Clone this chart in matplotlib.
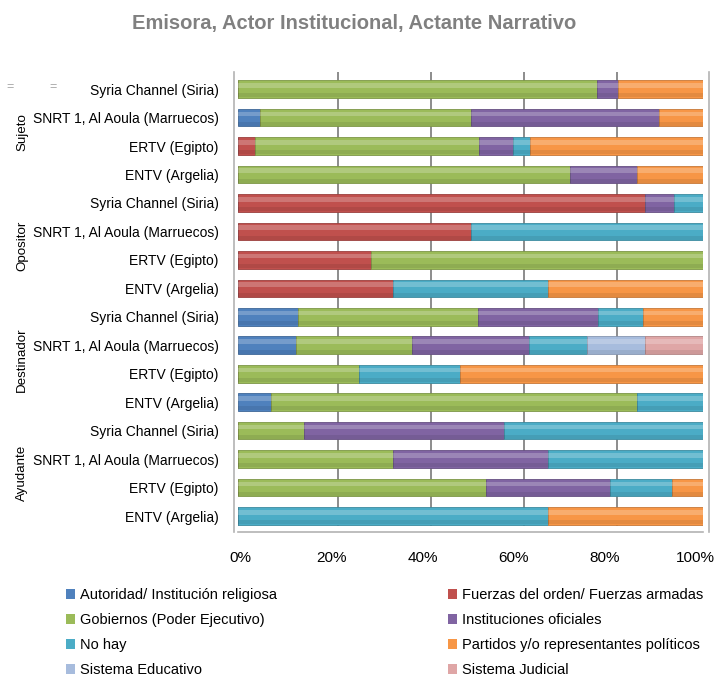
"""
Stacked 100% horizontal bar chart: institutional actor per station and narrative role.
"""

import matplotlib

matplotlib.use("Agg")
import matplotlib.pyplot as plt
import matplotlib.transforms as mtransforms
import numpy as np
from matplotlib.patches import Patch

plt.rcParams["font.family"] = ["Liberation Sans", "DejaVu Sans"]

# rows listed top to bottom
stations = [
    "Syria Channel (Siria)",
    "SNRT 1, Al Aoula (Marruecos)",
    "ERTV (Egipto)",
    "ENTV (Argelia)",
] * 4
roles = ["Sujeto", "Opositor", "Destinador", "Ayudante"]

series_names = [
    "Autoridad/ Institución religiosa",
    "Fuerzas del orden/ Fuerzas armadas",
    "Gobiernos (Poder Ejecutivo)",
    "Instituciones oficiales",
    "No hay",
    "Partidos y/o representantes políticos",
    "Sistema Educativo",
    "Sistema Judicial",
]
colors = ["#4F81BD", "#C0504D", "#9BBB59", "#8064A2", "#4BACC6", "#F79646", "#A7BCDD", "#DFA6A6"]

autoridad = [0, 4.8, 0, 0, 0, 0, 0, 0, 12.9, 12.5, 0, 7.1, 0, 0, 0, 0]
fuerzas = [0, 0, 3.7, 0, 87.5, 50, 28.6, 33.3, 0, 0, 0, 0, 0, 0, 0, 0]
gobiernos = [77.3, 45.2, 48.1, 71.4, 0, 0, 71.4, 0, 38.7, 25, 26.1, 78.6, 14.3, 33.3, 53.3, 0]
instituciones = [4.5, 40.5, 7.4, 14.3, 6.25, 0, 0, 0, 25.8, 25, 0, 0, 42.9, 33.3, 26.7, 0]
no_hay = [0, 0, 3.7, 0, 6.25, 50, 0, 33.3, 9.7, 12.5, 21.7, 14.3, 42.8, 33.4, 13.3, 66.7]
partidos = [18.2, 9.5, 37.1, 14.3, 0, 0, 0, 33.4, 12.9, 0, 52.2, 0, 0, 0, 6.7, 33.3]
educativo = [0, 0, 0, 0, 0, 0, 0, 0, 0, 12.5, 0, 0, 0, 0, 0, 0]
judicial = [0, 0, 0, 0, 0, 0, 0, 0, 0, 12.5, 0, 0, 0, 0, 0, 0]

series = [autoridad, fuerzas, gobiernos, instituciones, no_hay, partidos, educativo, judicial]
ticks = [0, 20, 40, 60, 80, 100]

# the percent labels sit on the front floor of the 3D box, a bit narrower than the bars
FLOOR_X0, FLOOR_SPAN = 0.6, 97.7


def to_floor(x):
    return (np.asarray(x, dtype=float) - FLOOR_X0) * 100 / FLOOR_SPAN


def from_floor(v):
    return np.asarray(v, dtype=float) * FLOOR_SPAN / 100 + FLOOR_X0


def main():
    fig = plt.figure(figsize=(7.17, 6.86), dpi=100)
    ax = fig.add_axes([238 / 717, 1 - 532 / 686, 465 / 717, 460 / 686])

    y = np.arange(len(stations))
    left = np.zeros(len(stations))
    bar_h = 0.62
    for name, vals, col in zip(series_names, series, colors):
        vals = np.asarray(vals, dtype=float)
        edge = tuple(c * 0.8 for c in matplotlib.colors.to_rgb(col))
        ax.barh(y, vals, left=left, height=bar_h, color=col, edgecolor=edge,
                linewidth=0.6, label=name, zorder=3)
        # cylinder-ish shading
        ax.barh(y - 0.13, vals, left=left, height=0.16, color="white",
                alpha=0.22, linewidth=0, zorder=4)
        ax.barh(y + 0.22, vals, left=left, height=0.14, color="black",
                alpha=0.08, linewidth=0, zorder=4)
        left += vals

    ax.set_xlim(0, 100)
    ax.set_ylim(15.56, -0.6)
    ax.set_xticks(ticks)
    ax.tick_params(axis="x", length=0, labelbottom=False)
    ax.set_yticks(y)
    ax.set_yticklabels(stations, fontsize=9.4)
    ax.tick_params(axis="y", length=0, pad=11)

    floor = ax.secondary_xaxis("bottom", functions=(to_floor, from_floor))
    floor.set_xticks(ticks)
    floor.set_xticklabels([f"{t}%" for t in ticks], fontsize=11)
    floor.tick_params(length=0, pad=14)
    floor.spines["bottom"].set_visible(False)

    # back-wall gridlines, shifted by the 3D depth
    shift = mtransforms.offset_copy(ax.transData, fig=fig, x=7, y=0, units="dots")
    for t in ticks[1:-1]:
        ax.plot([t, t], [15.3, -0.6], color="#8c8c8c", linewidth=1.4,
                transform=shift, zorder=1)

    ax.spines["top"].set_visible(False)
    for side in ["left", "right", "bottom"]:
        ax.spines[side].set_color("#b3b3b3")
        ax.spines[side].set_linewidth(1.2)
    ax.spines["left"].set_position(("outward", 3))
    ax.spines["right"].set_position(("outward", 4))

    # narrative role labels
    blend = mtransforms.blended_transform_factory(fig.transFigure, ax.transData)
    for i, role in enumerate(roles):
        ax.text(22 / 717, i * 4 + 1.5, role, rotation=90, ha="center", va="center",
                fontsize=9.6, transform=blend)

    for xp in (10, 53):
        fig.text(xp / 717, 1 - 87 / 686, "=", color="#a6a6a6", fontsize=9,
                 ha="center", va="center")

    fig.suptitle("Emisora, Actor Institucional, Actante Narrativo", x=354 / 717,
                 y=1 - 23 / 686, fontsize=14.5, fontweight="bold", color="#808080",
                 va="center")

    handles = [Patch(facecolor=c, edgecolor="none") for c in colors]
    for col_idx, x0 in enumerate((66 / 717, 448 / 717)):
        idx = [col_idx + 2 * k for k in range(4)]
        fig.legend([handles[i] for i in idx], [series_names[i] for i in idx],
                   loc="upper left", bbox_to_anchor=(x0, 1 - 588 / 686),
                   frameon=False, fontsize=10.5, handlelength=0.65, handleheight=0.65,
                   handletextpad=0.3, labelspacing=0.75, borderpad=0, borderaxespad=0)

    fig.savefig("out.png", dpi=100)


if __name__ == "__main__":
    main()
